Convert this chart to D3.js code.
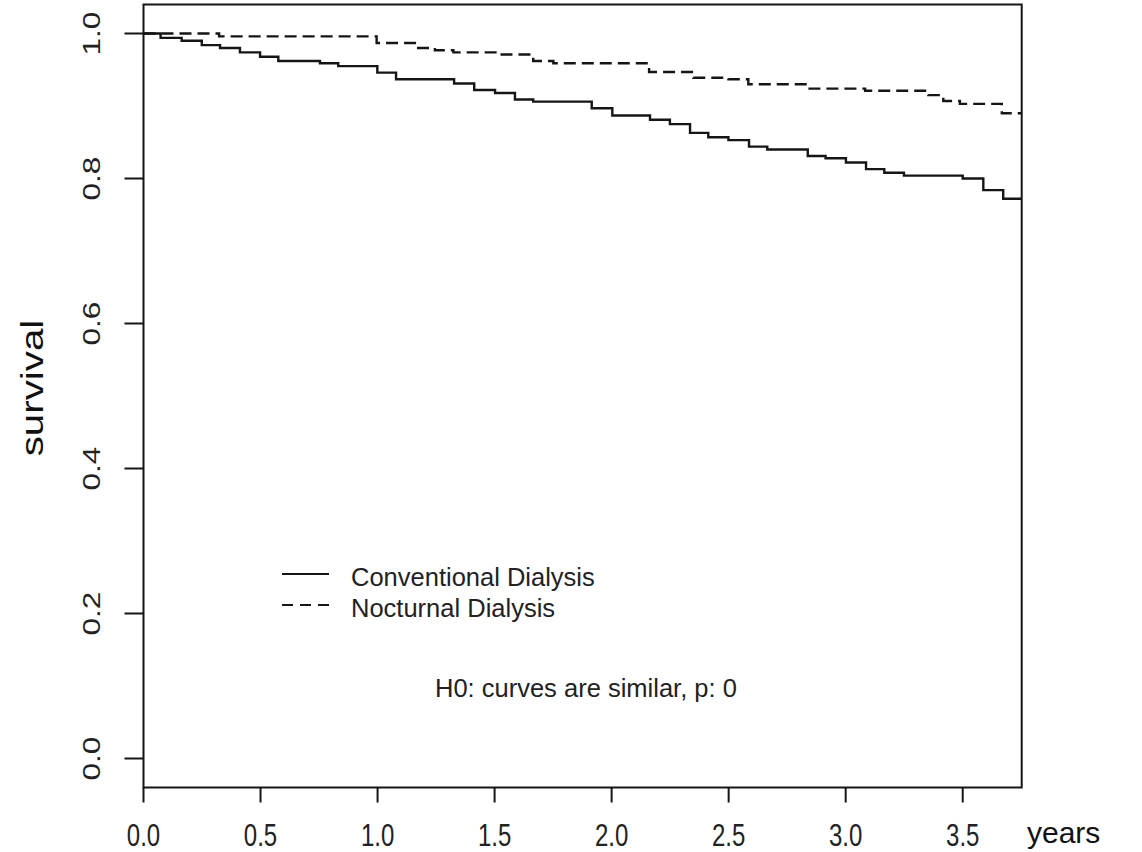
<!DOCTYPE html>
<html>
<head>
<meta charset="utf-8">
<script src="https://cdn.jsdelivr.net/npm/d3@7"></script>
<style>
  body { margin: 0; background: #fff; }
  #chart { width: 1142px; height: 852px; }
</style>
</head>
<body>
<div id="chart"></div>
<script>
// Kaplan-Meier estimates (time in years, survival)
const convTimes = [0, 0.073, 0.163, 0.249, 0.327, 0.412, 0.498, 0.576, 0.754, 0.832, 0.999, 1.079,
    1.327, 1.413, 1.502, 1.587, 1.665, 1.915, 2.003, 2.164, 2.249, 2.335, 2.413, 2.499, 2.587,
    2.665, 2.838, 2.914, 3.001, 3.087, 3.165, 3.249, 3.500, 3.588, 3.673, 3.75];
const convSurv = [1, 0.994, 0.990, 0.984, 0.980, 0.974, 0.968, 0.962, 0.959, 0.955, 0.946, 0.937,
    0.931, 0.922, 0.918, 0.909, 0.906, 0.897, 0.887, 0.881, 0.875, 0.863, 0.857, 0.853, 0.844,
    0.840, 0.831, 0.828, 0.822, 0.813, 0.808, 0.804, 0.800, 0.784, 0.772, 0.772];

const noctTimes = [0, 0.323, 0.996, 1.167, 1.245, 1.324, 1.523, 1.665, 1.751, 2.160, 2.349, 2.499,
    2.584, 2.840, 3.083, 3.353, 3.417, 3.488, 3.667, 3.75];
const noctSurv = [1, 0.996, 0.987, 0.980, 0.977, 0.974, 0.971, 0.962, 0.959, 0.947, 0.939, 0.937,
    0.930, 0.924, 0.921, 0.915, 0.907, 0.903, 0.890, 0.890];

const xTicks = [0, 0.5, 1.0, 1.5, 2.0, 2.5, 3.0, 3.5];
const yTicks = [0, 0.2, 0.4, 0.6, 0.8, 1.0];
const legendLabels = ["Conventional Dialysis", "Nocturnal Dialysis"];
const testLabel = "H0: curves are similar, p: 0";

const width = 1142, height = 852;
const ink = "#151515";

d3.select("#chart").selectAll("*").remove();
const svg = d3.select("#chart")
    .append("svg")
    .attr("width", width)
    .attr("height", height)
    .style("font-family", "'Liberation Sans', Arial, sans-serif");

// scales (y extended 4% like R's default)
const x = d3.scaleLinear().domain([0, 3.752]).range([143.5, 1021.7]);
const y = d3.scaleLinear().domain([-0.04, 1.04]).range([787.5, 4.5]);

// plot box
svg.append("rect")
    .attr("x", x(0))
    .attr("y", y(1.04))
    .attr("width", x(3.752) - x(0))
    .attr("height", y(-0.04) - y(1.04))
    .attr("fill", "none")
    .attr("stroke", ink)
    .attr("stroke-width", 2);

// x axis ticks + labels
const xAxis = svg.append("g");
xAxis.selectAll("line")
    .data(xTicks)
    .join("line")
    .attr("x1", d => x(d)).attr("x2", d => x(d))
    .attr("y1", y(-0.04)).attr("y2", y(-0.04) + 15)
    .attr("stroke", ink)
    .attr("stroke-width", 2);
xAxis.selectAll("text")
    .data(xTicks)
    .join("text")
    .attr("transform", d => `translate(${x(d)},846) scale(1,1.28)`)
    .attr("text-anchor", "middle")
    .style("font-size", "24px")
    .attr("fill", "#222")
    .text(d => d.toFixed(1));

// y axis ticks + labels
const yAxis = svg.append("g");
yAxis.selectAll("line")
    .data(yTicks)
    .join("line")
    .attr("x1", x(0) - 19).attr("x2", x(0))
    .attr("y1", d => y(d)).attr("y2", d => y(d))
    .attr("stroke", ink)
    .attr("stroke-width", 2);
yAxis.selectAll("text")
    .data(yTicks)
    .join("text")
    .attr("transform", d => `translate(100,${y(d)}) rotate(-90) scale(1.05,0.8)`)
    .attr("text-anchor", "middle")
    .style("font-size", "30px")
    .attr("fill", "#222")
    .text(d => d.toFixed(1));

// axis titles
svg.append("text")
    .attr("x", 1027)
    .attr("y", 843)
    .style("font-size", "30px")
    .attr("fill", "#111")
    .text("years");

svg.append("text")
    .attr("transform", "translate(43,388) rotate(-90) scale(1.3,1)")
    .attr("text-anchor", "middle")
    .style("font-size", "31px")
    .attr("fill", "#111")
    .text("survival");

// survival curves
const line = d3.line()
    .x(d => x(d[0]))
    .y(d => y(d[1]))
    .curve(d3.curveStepAfter);

svg.append("path")
    .datum(d3.zip(convTimes, convSurv))
    .attr("d", line)
    .attr("fill", "none")
    .attr("stroke", ink)
    .attr("stroke-width", 2.4);

svg.append("path")
    .datum(d3.zip(noctTimes, noctSurv))
    .attr("d", line)
    .attr("fill", "none")
    .attr("stroke", ink)
    .attr("stroke-width", 2.4)
    .attr("stroke-dasharray", "12,6");

// legend
const legend = svg.append("g");
legend.selectAll("line")
    .data(legendLabels)
    .join("line")
    .attr("x1", 282).attr("x2", 329)
    .attr("y1", (d, i) => 574 + i * 31)
    .attr("y2", (d, i) => 574 + i * 31)
    .attr("stroke", ink)
    .attr("stroke-width", 2)
    .attr("stroke-dasharray", (d, i) => i === 0 ? null : "11,7");
legend.selectAll("text")
    .data(legendLabels)
    .join("text")
    .attr("x", 351)
    .attr("y", (d, i) => 586 + i * 31)
    .style("font-size", "25.5px")
    .attr("fill", "#222")
    .text(d => d);

svg.append("text")
    .attr("x", 435)
    .attr("y", 697)
    .style("font-size", "25.5px")
    .attr("fill", "#222")
    .text(testLabel);
</script>
</body>
</html>
